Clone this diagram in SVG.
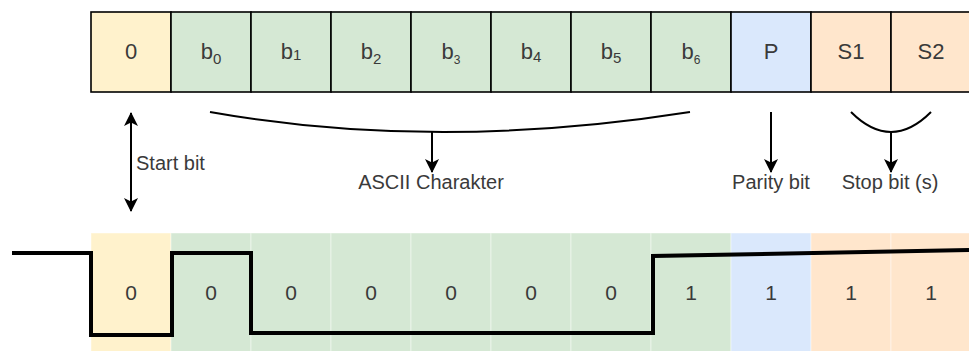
<svg xmlns="http://www.w3.org/2000/svg" width="969" height="351" viewBox="0 0 969 351">
  <style>
    .box { stroke: #000; stroke-width: 1.6; }
    .cell { stroke: #ffffff; stroke-opacity: 0.45; stroke-width: 1; }
    .y { fill: #fff2cc; }
    .g { fill: #d5e8d4; }
    .b { fill: #dae8fc; }
    .o { fill: #ffe6cc; }
    .t { font-family: "Liberation Sans", Arial, sans-serif; fill: #3a3a3a; text-anchor: middle; }
    .bt { font-size: 22px; }
    .dig { font-size: 21px; }
    .lbl { font-size: 20px; }
    .sub { font-size: 15px; }
    .wire { fill: none; stroke: #000; stroke-width: 2; }
    .sig { fill: none; stroke: #000; stroke-width: 4; stroke-linejoin: miter; }
  </style>
  <defs>
    <marker id="arr" viewBox="0 0 14 14" refX="13" refY="7" markerWidth="14" markerHeight="14" markerUnits="userSpaceOnUse" orient="auto-start-reverse">
      <path d="M0,0 L14,7 L0,14 L3.5,7 Z" fill="#000"/>
    </marker>
  </defs>

  <!-- frame layout: start bit, 7 data bits, parity, two stop bits -->
  <g id="frame">
    <g id="f-start"><rect class="box y" x="91" y="12" width="80" height="80"/><text class="t bt" x="131" y="59">0</text></g>
    <g id="f-b0"><rect class="box g" x="171" y="12" width="80" height="80"/><text class="t bt" x="211" y="59">b<tspan class="sub" dy="5">0</tspan></text></g>
    <g id="f-b1"><rect class="box g" x="251" y="12" width="80" height="80"/><text class="t bt" x="291" y="59">b<tspan class="sub" dy="1">1</tspan></text></g>
    <g id="f-b2"><rect class="box g" x="331" y="12" width="80" height="80"/><text class="t bt" x="371" y="59">b<tspan class="sub" dy="5">2</tspan></text></g>
    <g id="f-b3"><rect class="box g" x="411" y="12" width="80" height="80"/><text class="t bt" x="451" y="59">b<tspan font-size="12" dy="5">3</tspan></text></g>
    <g id="f-b4"><rect class="box g" x="491" y="12" width="80" height="80"/><text class="t bt" x="531" y="59">b<tspan class="sub" dy="3">4</tspan></text></g>
    <g id="f-b5"><rect class="box g" x="571" y="12" width="80" height="80"/><text class="t bt" x="611" y="59">b<tspan class="sub" dy="4">5</tspan></text></g>
    <g id="f-b6"><rect class="box g" x="651" y="12" width="80" height="80"/><text class="t bt" x="691" y="59">b<tspan font-size="12" dy="5">6</tspan></text></g>
    <g id="f-p"><rect class="box b" x="731" y="12" width="80" height="80"/><text class="t bt" x="771" y="59">P</text></g>
    <g id="f-s1"><rect class="box o" x="811" y="12" width="80" height="80"/><text class="t bt" x="851" y="59">S1</text></g>
    <g id="f-s2"><rect class="box o" x="891" y="12" width="80" height="80"/><text class="t bt" x="931" y="59">S2</text></g>
  </g>

  <!-- annotations -->
  <g id="connectors">
    <line class="wire" x1="131" y1="113" x2="131" y2="211" marker-start="url(#arr)" marker-end="url(#arr)"/>
    <path class="wire" d="M210,112 Q436,152 690,112"/>
    <line class="wire" x1="432" y1="132" x2="432" y2="172" marker-end="url(#arr)"/>
    <line class="wire" x1="771" y1="112" x2="771" y2="172" marker-end="url(#arr)"/>
    <path class="wire" d="M851,112 Q891,152 931,112"/>
    <line class="wire" x1="891" y1="132" x2="891" y2="172" marker-end="url(#arr)"/>
  </g>
  <g id="labels">
    <text class="t lbl" x="136" y="170" style="text-anchor:start">Start bit</text>
    <text class="t lbl" x="431" y="189">ASCII Charakter</text>
    <text class="t lbl" x="771" y="189">Parity bit</text>
    <text class="t lbl" x="890" y="189">Stop bit (s)</text>
  </g>

  <!-- signal timing -->
  <g id="timing">
    <rect class="cell y" x="91" y="233" width="80" height="120"/>
    <rect class="cell g" x="171" y="233" width="80" height="120"/>
    <rect class="cell g" x="251" y="233" width="80" height="120"/>
    <rect class="cell g" x="331" y="233" width="80" height="120"/>
    <rect class="cell g" x="411" y="233" width="80" height="120"/>
    <rect class="cell g" x="491" y="233" width="80" height="120"/>
    <rect class="cell g" x="571" y="233" width="80" height="120"/>
    <rect class="cell g" x="651" y="233" width="80" height="120"/>
    <rect class="cell b" x="731" y="233" width="80" height="120"/>
    <rect class="cell o" x="811" y="233" width="80" height="120"/>
    <rect class="cell o" x="891" y="233" width="80" height="120"/>
    <text class="t dig" x="131" y="299.5">0</text>
    <text class="t dig" x="211" y="299.5">0</text>
    <text class="t dig" x="291" y="299.5">0</text>
    <text class="t dig" x="371" y="299.5">0</text>
    <text class="t dig" x="451" y="299.5">0</text>
    <text class="t dig" x="531" y="299.5">0</text>
    <text class="t dig" x="611" y="299.5">0</text>
    <text class="t dig" x="691" y="299.5">1</text>
    <text class="t dig" x="771" y="299.5">1</text>
    <text class="t dig" x="851" y="299.5">1</text>
    <text class="t dig" x="931" y="299.5">1</text>
    <path class="sig" d="M12,253 H91 V335 H172 V253 H251 V333 H653 V256 L969,250"/>
  </g>
</svg>
